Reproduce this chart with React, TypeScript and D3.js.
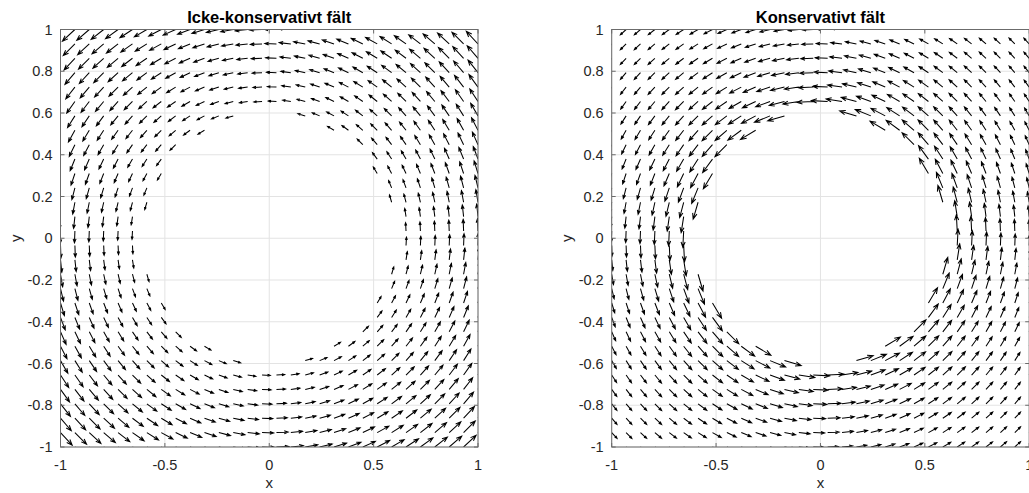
import { useRef, useEffect } from "react";
import * as d3 from "d3";

// grid coordinates used by both quiver plots (30 points, -1..1)
const gridPts = [
  -1, -0.931, -0.8621, -0.7931, -0.7241, -0.6552, -0.5862, -0.5172, -0.4483,
  -0.3793, -0.3103, -0.2414, -0.1724, -0.1034, -0.0345, 0.0345, 0.1034, 0.1724,
  0.2414, 0.3103, 0.3793, 0.4483, 0.5172, 0.5862, 0.6552, 0.7241, 0.7931,
  0.8621, 0.931, 1,
];
const holeRadius = 0.6;

const xTicks = [-1, -0.5, 0, 0.5, 1];
const yTicks = [-1, -0.8, -0.6, -0.4, -0.2, 0, 0.2, 0.4, 0.6, 0.8, 1];

// the two vector fields, as in the original quiver calls
const nonConservative = (x: number, y: number) => [-y, x];
const conservative = (x: number, y: number) => {
  const r2 = x * x + y * y;
  return [-y / r2, x / r2];
};

const panels = [
  { title: "Icke-konservativt fält", field: nonConservative, left: 60.5, id: "a" },
  { title: "Konservativt fält", field: conservative, left: 611.7, id: "b" },
];

const TOP = 29.5,
  SIZE = 417.5;
const FONT = "'Liberation Sans', Arial, Helvetica, sans-serif";
const TXT = "#262626";

export default function App() {
  const ref = useRef<SVGSVGElement>(null);

  useEffect(() => {
    if (!ref.current) return;
    const svg = d3.select(ref.current);
    svg.selectAll("*").remove();

    panels.forEach((p) => {
      const x = d3.scaleLinear().domain([-1, 1]).range([p.left, p.left + SIZE]);
      const y = d3.scaleLinear().domain([-1, 1]).range([TOP + SIZE, TOP]);
      const g = svg.append("g");

      g.append("clipPath")
        .attr("id", "clip-" + p.id)
        .append("rect")
        .attr("x", p.left)
        .attr("y", TOP)
        .attr("width", SIZE)
        .attr("height", SIZE);

      // grid
      g.selectAll(".gx")
        .data(xTicks)
        .join("line")
        .attr("x1", (d) => x(d))
        .attr("x2", (d) => x(d))
        .attr("y1", TOP)
        .attr("y2", TOP + SIZE)
        .attr("stroke", "#e3e3e3")
        .attr("stroke-width", 1);
      g.selectAll(".gy")
        .data(yTicks)
        .join("line")
        .attr("y1", (d) => y(d))
        .attr("y2", (d) => y(d))
        .attr("x1", p.left)
        .attr("x2", p.left + SIZE)
        .attr("stroke", "#e3e3e3")
        .attr("stroke-width", 1);

      // vectors
      const pts: { x: number; y: number; u: number; v: number }[] = [];
      gridPts.forEach((gx) =>
        gridPts.forEach((gy) => {
          if (Math.hypot(gx, gy) < holeRadius) return;
          const [u, v] = p.field(gx, gy);
          pts.push({ x: gx, y: gy, u, v });
        })
      );
      // MATLAB-like autoscale
      const n = gridPts.length;
      const del = 2 * (2 / n) ** 2;
      const maxLen = d3.max(pts, (d) => Math.sqrt((d.u * d.u + d.v * d.v) / del)) || 1;
      const k = 0.9 / maxLen;
      const alpha = 0.33,
        beta = 0.38;
      const path = d3.path();
      pts.forEach((d) => {
        const u = d.u * k,
          v = d.v * k;
        const tx = d.x + u,
          ty = d.y + v;
        path.moveTo(x(d.x), y(d.y));
        path.lineTo(x(tx), y(ty));
        path.moveTo(x(tx - alpha * (u + beta * v)), y(ty - alpha * (v - beta * u)));
        path.lineTo(x(tx), y(ty));
        path.lineTo(x(tx - alpha * (u - beta * v)), y(ty - alpha * (v + beta * u)));
      });
      g.append("path")
        .attr("d", path.toString())
        .attr("clip-path", `url(#clip-${p.id})`)
        .attr("fill", "none")
        .attr("stroke", "#000")
        .attr("stroke-width", 1.05);

      // box + ticks
      g.append("rect")
        .attr("x", p.left)
        .attr("y", TOP)
        .attr("width", SIZE)
        .attr("height", SIZE)
        .attr("fill", "none")
        .attr("stroke", "#6b6b6b")
        .attr("stroke-width", 1);
      const tl = 4;
      xTicks.forEach((t) => {
        g.append("line").attr("x1", x(t)).attr("x2", x(t)).attr("y1", TOP + SIZE).attr("y2", TOP + SIZE - tl).attr("stroke", "#6b6b6b");
        g.append("line").attr("x1", x(t)).attr("x2", x(t)).attr("y1", TOP).attr("y2", TOP + tl).attr("stroke", "#6b6b6b");
      });
      yTicks.forEach((t) => {
        g.append("line").attr("y1", y(t)).attr("y2", y(t)).attr("x1", p.left).attr("x2", p.left + tl).attr("stroke", "#6b6b6b");
        g.append("line").attr("y1", y(t)).attr("y2", y(t)).attr("x1", p.left + SIZE).attr("x2", p.left + SIZE - tl).attr("stroke", "#6b6b6b");
      });

      // tick labels
      g.selectAll(".xl")
        .data(xTicks)
        .join("text")
        .attr("x", (d) => x(d))
        .attr("y", TOP + SIZE + 23)
        .attr("text-anchor", "middle")
        .attr("font-family", FONT)
        .attr("font-size", 14.5)
        .attr("fill", TXT)
        .text((d) => String(d));
      g.selectAll(".yl")
        .data(yTicks)
        .join("text")
        .attr("x", p.left - 8)
        .attr("y", (d) => y(d) + 5)
        .attr("text-anchor", "end")
        .attr("font-family", FONT)
        .attr("font-size", 14.5)
        .attr("fill", TXT)
        .text((d) => String(d));

      // axis labels and title
      g.append("text")
        .attr("x", p.left + SIZE / 2)
        .attr("y", TOP + SIZE + 41)
        .attr("text-anchor", "middle")
        .attr("font-family", FONT)
        .attr("font-size", 15)
        .attr("fill", TXT)
        .text("x");
      g.append("text")
        .attr("transform", `translate(${p.left - 40},${TOP + SIZE / 2}) rotate(-90)`)
        .attr("text-anchor", "middle")
        .attr("font-family", FONT)
        .attr("font-size", 15)
        .attr("fill", TXT)
        .text("y");
      g.append("text")
        .attr("x", p.left + SIZE / 2)
        .attr("y", TOP - 7)
        .attr("text-anchor", "middle")
        .attr("font-family", FONT)
        .attr("font-size", 16.5)
        .attr("font-weight", 700)
        .attr("fill", "#000")
        .text(p.title);
    });
  }, []);

  return (
    <svg
      ref={ref}
      width={1029}
      height={493}
      style={{ position: "absolute", left: 0, top: 0, display: "block", background: "#fff" }}
    />
  );
}
